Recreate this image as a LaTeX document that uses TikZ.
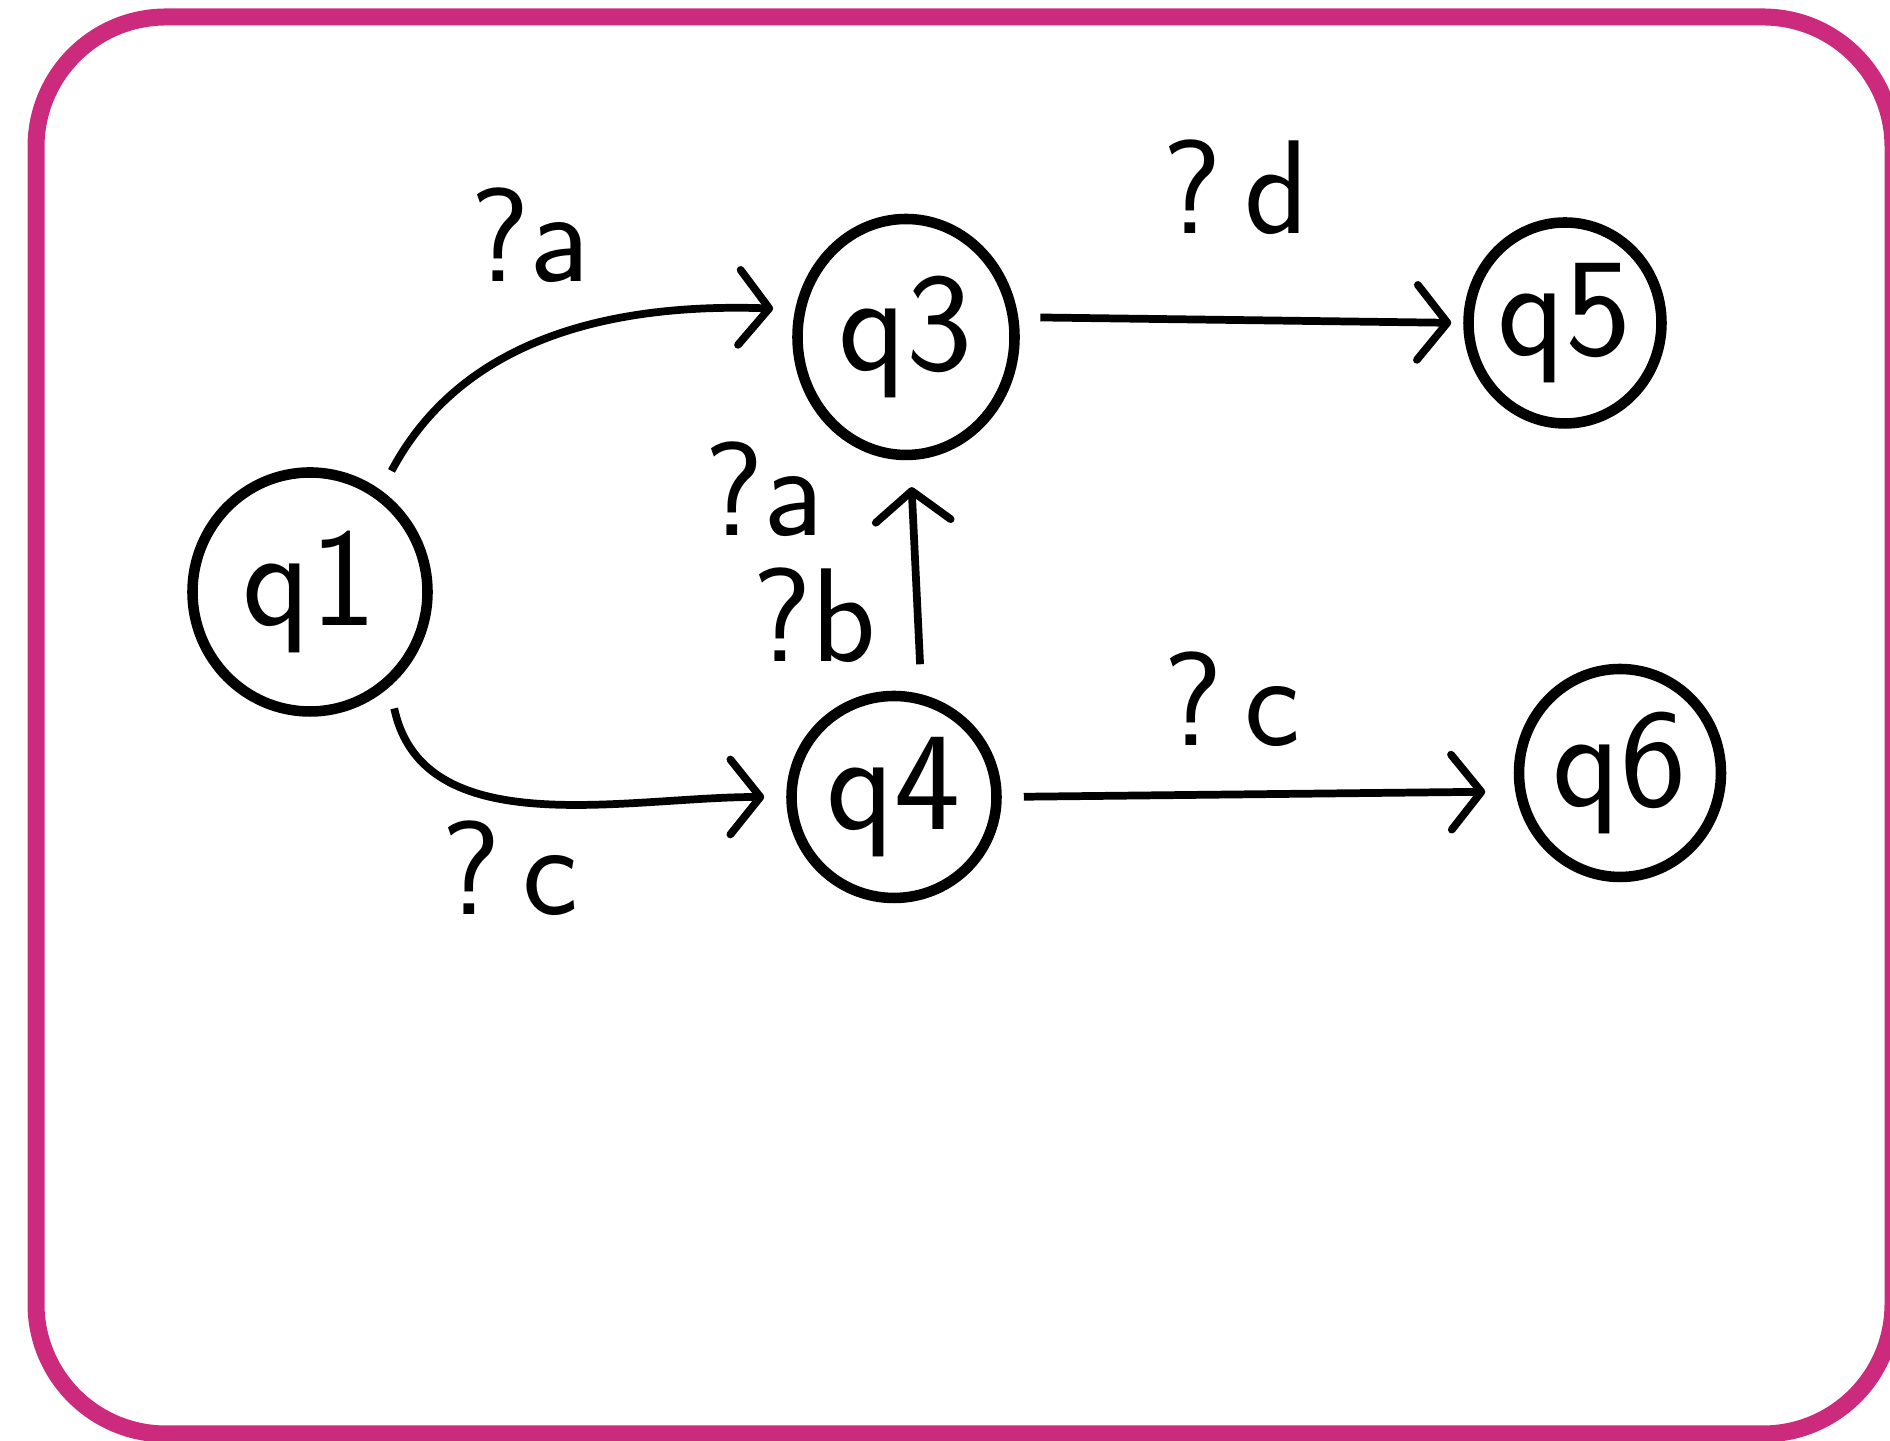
\documentclass[tikz,border=0pt]{standalone}
\usepackage{tikz}
\usetikzlibrary{arrows.meta, shapes.geometric}
\definecolor{framepink}{RGB}{204,42,124}

\begin{document}
\begin{tikzpicture}[
    >={Straight Barb[length=3mm, width=7.5mm, round]},
    line width=2.2pt,
    state/.style={draw, ellipse, line width=3pt, inner sep=0pt,
        font=\sffamily\fontsize{40}{42}\selectfont},
    edgelabel/.style={inner sep=1pt, font=\sffamily\fontsize{38}{40}\selectfont},
    trans/.style={->, shorten <=2.2mm, shorten >=2.2mm}
]
\useasboundingbox (0,0) rectangle (18.9,14.41);
\clip (0,0) rectangle (18.9,14.41);

% Ramecek
\draw[framepink, line width=0.17cm, rounded corners=1.3cm]
    (0.36,0.07) rectangle (18.93,14.24);

% Stavy
\node[state, minimum width=2.35cm, minimum height=2.39cm] (q1) at (3.10,8.49) {q1};
\node[state, minimum width=2.17cm, minimum height=2.36cm] (q3) at (9.06,11.04) {q3};
\node[state, minimum width=1.93cm, minimum height=2.01cm] (q5) at (15.65,11.18) {q5};
\node[state, minimum width=2.05cm, minimum height=2.02cm] (q4) at (8.94,6.44) {q4};
\node[state, minimum width=2.02cm, minimum height=2.08cm] (q6) at (16.20,6.68) {q6};

% Prechody
\draw[trans] (q1.55) to[out=62, in=178] (q3.166);
\draw[trans] (q1.-50) to[out=-78, in=180] (q4.180);
\draw[trans, shorten <=3mm, shorten >=2.7mm] (q4.75) -- (q3.-88);
\draw[trans, shorten >=1.2mm] (q3.10) -- (q5.180);
\draw[trans, shorten >=3mm] (q4.0) -- (q6.190);

% Popisky prechodu
\node[edgelabel] (l13) at (5.30,12.06) {?a};
\node[edgelabel] (l14) at (5.10,5.73) {?\,c};
\node[edgelabel] (l43a) at (7.64,9.52) {?a};
\node[edgelabel] (l43b) at (8.14,8.26) {?b};
\node[edgelabel] (l35) at (12.36,12.54) {?\,d};
\node[edgelabel] (l46) at (12.32,7.42) {?\,c};

\end{tikzpicture}
\end{document}
